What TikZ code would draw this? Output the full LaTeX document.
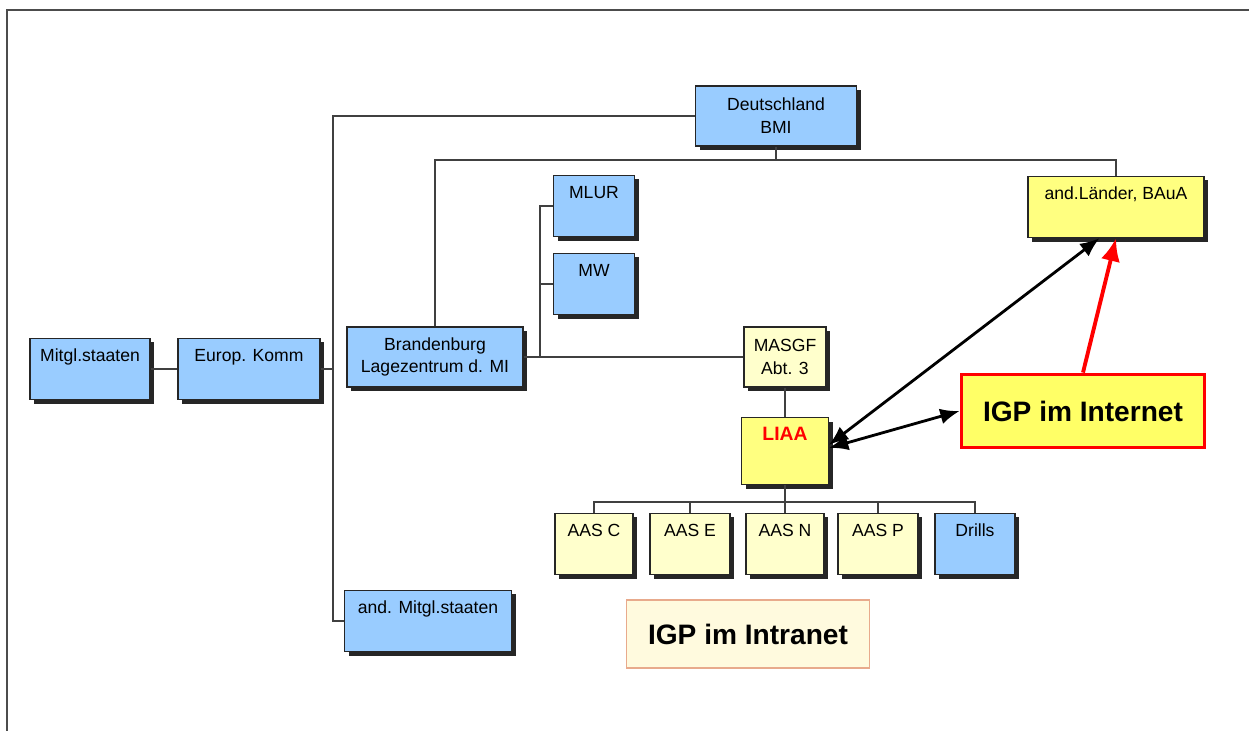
\documentclass[tikz,border=0pt]{standalone}
\usepackage{fontspec}
\setmainfont{Liberation Sans}
\usetikzlibrary{arrows,arrows.meta,shadows,calc}
\definecolor{boxblue}{RGB}{153,204,255}
\definecolor{paleyellow}{RGB}{255,255,204}
\definecolor{brightyellow}{RGB}{255,255,128}
\definecolor{inetyellow}{RGB}{255,255,102}
\definecolor{intrafill}{RGB}{255,250,222}
\definecolor{intraline}{RGB}{232,170,140}

\begin{document}
\begin{tikzpicture}[x=0.02cm, y=-0.02cm,
  box/.style={draw=black!85, line width=0.6pt, inner xsep=2pt, inner ysep=4pt,
    font=\fontsize{10}{13}\selectfont,
    drop shadow={shadow xshift=2.4pt, shadow yshift=-2.4pt, fill=black!85, opacity=1}},
  toptext/.style={text height=9pt, text depth=#1},
  toptext/.default=18pt,
  bluebox/.style={fill=boxblue},
  palebox/.style={fill=paleyellow},
  yelbox/.style={fill=brightyellow},
  conn/.style={line width=0.8pt, black!75},
  bigarrow/.style={{Latex[length=11pt,width=9pt]}-{Latex[length=11pt,width=9pt]}, line width=1.6pt},
  igp/.style={minimum width=4.86cm, font=\fontsize{16}{18}\selectfont\bfseries}]
\useasboundingbox (0,0) rectangle (1249,731);
\draw[line width=1.2pt, black!70] (7,731) -- (7,10) -- (1249,10);

\node[box, bluebox, toptext, minimum width=2.4cm] (mitgl) at (90,369) {Mitgl.staaten};
\node[box, bluebox, toptext, minimum width=2.84cm] (europ) at (249,369) {Europ. Komm};
\node[box, bluebox, align=center, minimum width=3.52cm, minimum height=1.2cm] (brb) at (435,357) {Brandenburg\\Lagezentrum d. MI};
\node[box, bluebox, align=center, minimum width=3.22cm, minimum height=1.2cm] (bmi) at (776,116) {Deutschland\\BMI};
\node[box, yelbox, toptext, minimum width=3.52cm] (laender) at (1116,207) {and.Länder, BAuA};
\node[box, bluebox, toptext, minimum width=1.62cm] (mlur) at (594,206) {MLUR};
\node[box, bluebox, toptext, minimum width=1.62cm] (mw) at (594,284) {MW};
\node[box, palebox, align=center, minimum width=1.64cm, minimum height=1.2cm] (masgf) at (785,357) {MASGF\\Abt. 3};
\node[box, yelbox, toptext=21pt, minimum width=1.74cm, text=red, font=\fontsize{11}{13}\selectfont\bfseries] (liaa) at (785,451) {LIAA};
\node[box, palebox, toptext, minimum width=1.56cm] (aasc) at (594,544) {AAS C};
\node[box, palebox, toptext, minimum width=1.6cm] (aase) at (690,544) {AAS E};
\node[box, palebox, toptext, minimum width=1.56cm] (aasn) at (785,544) {AAS N};
\node[box, palebox, toptext, minimum width=1.6cm] (aasp) at (878,544) {AAS P};
\node[box, bluebox, toptext, minimum width=1.6cm] (drills) at (975,544) {Drills};
\node[box, bluebox, toptext, minimum width=3.34cm] (andm) at (428,621) {and. Mitgl.staaten};
\node[igp, draw=red, line width=2.2pt, fill=inetyellow, minimum height=1.46cm] (inet) at (1083,411) {IGP im Internet};
\node[igp, draw=intraline, line width=0.6pt, fill=intrafill, minimum height=1.36cm] (intra) at (748,634) {IGP im Intranet};

\coordinate (trunk) at (333,369);
\coordinate (bus) at (776,160);
\coordinate (mbr) at (540,357);
\coordinate (abus) at (785,502);
\draw[conn] (mitgl) -- (europ);
\draw[conn] (europ) -- (trunk);
\draw[conn] (bmi.west) -| (trunk) |- (andm.west);
\draw[conn] (bmi) -- (bus);
\draw[conn] (brb.north) |- (bus) -| (laender.north);
\draw[conn] (brb) -- (masgf);
\draw[conn] (mlur.west) -| (mbr);
\draw[conn] (mw.west) -| (mbr);
\draw[conn] (masgf) -- (liaa);
\draw[conn] (liaa) -- (aasn);
\foreach \n in {aasc,aase,aasp,drills}
  \draw[conn] (\n.north) |- (abus);

\draw[bigarrow] (liaa.8) -- (laender.242);
\draw[bigarrow] (liaa.4) -- (inet.west);
\draw[-{Latex[length=13pt,width=11pt]}, red, line width=2.2pt] (inet.north) -- (laender.south);
\end{tikzpicture}
\end{document}
